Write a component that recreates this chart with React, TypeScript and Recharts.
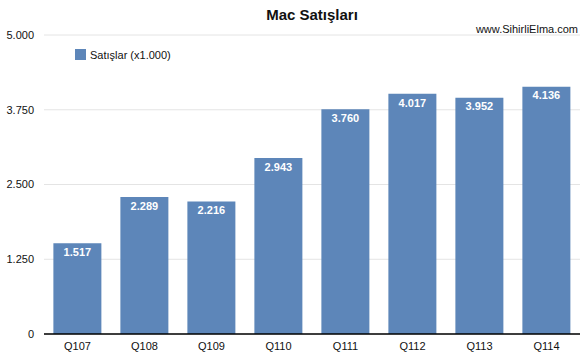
import { Bar, BarChart, CartesianGrid, LabelList, Legend, XAxis, YAxis } from "recharts";

const quarters = ["Q107", "Q108", "Q109", "Q110", "Q111", "Q112", "Q113", "Q114"];
const sales = [1517, 2289, 2216, 2943, 3760, 4017, 3952, 4136];
const yTicks = [0, 1250, 2500, 3750, 5000];

const data = quarters.map((q, i) => ({ quarter: q, sales: sales[i] }));

const fmt = (v: number) => v.toLocaleString("de-DE");

const FONT = "'Liberation Sans', Arial, Helvetica, sans-serif";

export default function App() {
  return (
    <div
      style={{
        position: "absolute",
        left: 0,
        top: 0,
        width: 585,
        height: 356,
        background: "#fff",
        fontFamily: FONT,
      }}
    >
      <div
        style={{
          position: "absolute",
          left: 44,
          width: 536,
          top: 6,
          textAlign: "center",
          fontSize: 15,
          fontWeight: "bold",
          color: "#111",
        }}
      >
        Mac Satışları
      </div>
      <div
        style={{
          position: "absolute",
          right: 7,
          top: 23,
          fontSize: 11,
          color: "#111",
        }}
      >
        www.SihirliElma.com
      </div>
      <BarChart
        width={585}
        height={356}
        data={data}
        margin={{ top: 35, right: 5, left: 0, bottom: 0 }}
        barCategoryGap="14%"
        style={{ fontFamily: FONT }}
      >
        <CartesianGrid vertical={false} stroke="#e4e4e4" />
        <XAxis
          dataKey="quarter"
          height={22}
          tickLine={false}
          axisLine={{ stroke: "#000", strokeWidth: 1.5 }}
          tick={{ fontSize: 11, fill: "#111", fontFamily: FONT }}
        />
        <YAxis
          width={44}
          domain={[0, 5000]}
          ticks={yTicks}
          tickFormatter={fmt}
          tickLine={false}
          axisLine={false}
          tickMargin={4}
          tick={{ fontSize: 11, fill: "#111", fontFamily: FONT }}
        />
        <Legend
          layout="horizontal"
          verticalAlign="middle"
          align="center"
          iconType="square"
          iconSize={11}
          wrapperStyle={{ position: "absolute", top: 45, left: 75, width: "auto" }}
          formatter={() => (
            <span style={{ color: "#111", fontSize: 11 }}>Satışlar (x1.000)</span>
          )}
        />
        <Bar dataKey="sales" fill="#5d86b9" isAnimationActive={false}>
          <LabelList
            dataKey="sales"
            position="insideTop"
            offset={5}
            formatter={(v: any) => fmt(Number(v))}
            style={{ fill: "#fff", fontSize: 11, fontWeight: "bold", fontFamily: FONT }}
          />
        </Bar>
      </BarChart>
    </div>
  );
}
